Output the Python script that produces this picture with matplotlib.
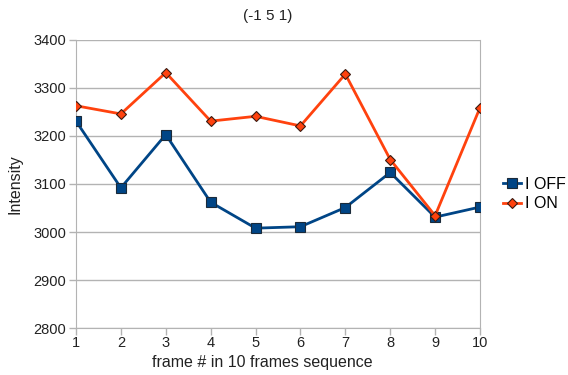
import matplotlib
matplotlib.use("Agg")
import matplotlib.pyplot as plt

frames = [1, 2, 3, 4, 5, 6, 7, 8, 9, 10]
i_off = [3231, 3092, 3203, 3062, 3008, 3011, 3051, 3124, 3031, 3052]
i_on = [3263, 3246, 3332, 3231, 3241, 3221, 3329, 3151, 3034, 3259]
yticks = [2800, 2900, 3000, 3100, 3200, 3300, 3400]

plt.rcParams['font.family'] = ['Liberation Sans', 'DejaVu Sans']

fig = plt.figure(figsize=(5.68, 3.75), dpi=100)
ax = fig.add_axes([76/568, 1-328/375, (480-76)/568, (328-40)/375])

ax.plot(frames, i_off, color='#004586', lw=2, marker='s', ms=7,
        mfc='#004586', mec='#1a2a3a', mew=0.8, label='I OFF', zorder=3)
ax.plot(frames, i_on, color='#ff420e', lw=2, marker='D', ms=5,
        mfc='#ff420e', mec='#3a1a10', mew=0.8, label='I ON', zorder=3)

ax.set_xlim(1, 10)
ax.set_ylim(2800, 3400)
ax.set_xticks(frames)
ax.set_yticks(yticks)
ax.yaxis.grid(True, color='#b3b3b3', lw=1)
ax.set_axisbelow(True)
for s in ['left', 'bottom', 'right']:
    ax.spines[s].set_color('#b3b3b3')
ax.spines['top'].set_visible(False)
ax.tick_params(axis='both', colors='#b3b3b3', labelcolor='#222222',
               labelsize=10.5, length=5, width=1)
ax.tick_params(axis='x', pad=1)
ax.tick_params(axis='y', pad=2)

fig.text(268/568, 1-16/375, '(-1 5 1)', fontsize=11, color='#222222',
         ha='center', va='center')
ax.set_xlabel('frame # in 10 frames sequence', fontsize=11.5, color='#222222', labelpad=8)
ax.xaxis.set_label_coords((262-76)/(480-76), -0.095)
ax.set_ylabel('Intensity', fontsize=11.5, color='#222222', labelpad=8)

fig.legend(loc='center left', bbox_to_anchor=(503/568, 1-194/375), frameon=False,
           fontsize=11.5, handlelength=1.1, handletextpad=0.3, labelspacing=0.3,
           borderpad=0, borderaxespad=0)

fig.savefig('out.png', dpi=100)
